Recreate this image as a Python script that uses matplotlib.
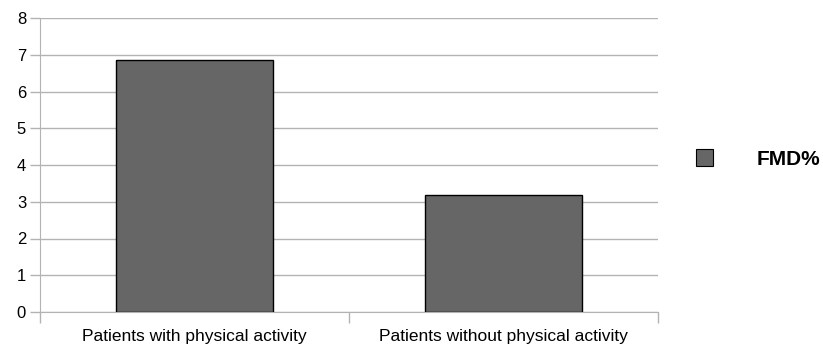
import matplotlib
matplotlib.use('Agg')
import matplotlib.pyplot as plt
from matplotlib.patches import Patch

# Daten
categories = ['Patients with physical activity', 'Patients without physical activity']
fmd_values = [6.85, 3.18]
series_name = 'FMD%'
y_ticks = [0, 1, 2, 3, 4, 5, 6, 7, 8]

plt.rcParams['font.family'] = ['Liberation Sans', 'DejaVu Sans']

fig = plt.figure(figsize=(8.23, 3.5), dpi=100)
ax = fig.add_axes([40 / 823, 1 - 312 / 350, 618 / 823, 294 / 350])

x = list(range(len(categories)))
ax.bar(x, fmd_values, width=0.51, color='#666666', edgecolor='black', linewidth=1, zorder=3)

ax.set_xlim(-0.5, len(categories) - 0.5)
ax.set_ylim(0, 8)
ax.set_yticks(y_ticks)
ax.set_yticklabels([str(v) for v in y_ticks], fontsize=12)
ax.yaxis.grid(True, color='#b3b3b3', linewidth=1, zorder=0)

# x-Ticks an den Kategoriegrenzen, Beschriftung in der Mitte
ax.set_xticks([-0.5, 0.5, 1.5])
ax.set_xticklabels([])
ax.set_xticks(x, minor=True)
ax.set_xticklabels(categories, minor=True, fontsize=12.5)
ax.tick_params(axis='x', which='minor', length=0, pad=12)
ax.tick_params(axis='x', which='major', length=8, color='#b3b3b3', width=1)
ax.tick_params(axis='y', length=7, color='#b3b3b3', width=1, pad=3)

for side in ['top', 'right']:
    ax.spines[side].set_visible(False)
for side in ['left', 'bottom']:
    ax.spines[side].set_color('#b3b3b3')

# Legende rechts
handle = Patch(facecolor='#666666', edgecolor='black', linewidth=0.8)
leg = fig.legend([handle], [series_name], loc='center left', bbox_to_anchor=(696 / 823, 1 - 159 / 350),
                 frameon=False, borderpad=0, borderaxespad=0,
                 handlelength=0.82, handleheight=0.82, handletextpad=2.07,
                 prop={'weight': 'bold', 'size': 15})

fig.savefig('out.png', dpi=100)
